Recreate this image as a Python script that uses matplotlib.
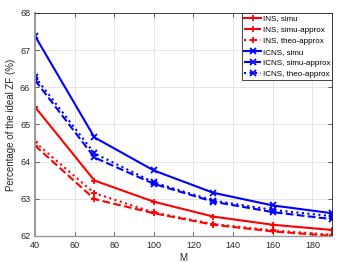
import matplotlib
matplotlib.use("Agg")
import matplotlib.pyplot as plt

plt.rcParams['font.family'] = ['Liberation Sans', 'DejaVu Sans']

M = [40, 70, 100, 130, 160, 190]

ins_simu = [65.47, 63.49, 62.92, 62.52, 62.30, 62.16]
ins_simu_approx = [64.43, 62.99, 62.61, 62.30, 62.12, 62.00]
ins_theo_approx = [64.52, 63.15, 62.63, 62.32, 62.15, 62.03]
icns_simu = [67.38, 64.65, 63.76, 63.16, 62.82, 62.61]
icns_simu_approx = [66.19, 64.11, 63.40, 62.92, 62.64, 62.45]
icns_theo_approx = [66.28, 64.22, 63.44, 62.95, 62.70, 62.53]

labels = ['INS, simu', 'INS, simu-approx', 'INS, theo-approx',
          'ICNS, simu', 'ICNS, simu-approx', 'ICNS, theo-approx']

axc = (0.15, 0.15, 0.15)

fig = plt.figure(figsize=(3.5, 2.63), dpi=100)
ax = fig.add_axes([0.1, 0.103, 0.849, 0.848])

kw = dict(linewidth=1.5, markersize=4.5, markeredgewidth=1.3)
ax.plot(M, ins_simu, '-', color='red', marker='+', label=labels[0], **kw)
ax.plot(M, ins_simu_approx, '--', color='red', marker='+', label=labels[1], **kw)
ax.plot(M, ins_theo_approx, ':', color='red', marker='+', label=labels[2], **kw)
ax.plot(M, icns_simu, '-', color='blue', marker='x', label=labels[3], **kw)
ax.plot(M, icns_simu_approx, '--', color='blue', marker='x', label=labels[4], **kw)
ax.plot(M, icns_theo_approx, ':', color='blue', marker='x', label=labels[5], **kw)

ax.set_xlim(40, 190)
ax.set_ylim(62, 68)
ax.set_xticks([40, 60, 80, 100, 120, 140, 160, 180])
ax.set_yticks([62, 63, 64, 65, 66, 67, 68])
ax.grid(True, color=(0.88, 0.88, 0.88), linewidth=0.6)
ax.set_axisbelow(True)
ax.tick_params(direction='in', labelsize=6.5, colors=axc, length=3, width=0.5,
               top=True, right=True)
for s in ax.spines.values():
    s.set_color(axc)
    s.set_linewidth(0.6)
ax.spines['left'].set_color((0.6, 0.6, 0.6))
ax.spines['left'].set_linewidth(1.4)
ax.spines['bottom'].set_color((0.6, 0.6, 0.6))
ax.spines['bottom'].set_linewidth(1.0)

ax.set_xlabel('M', fontsize=7, color=axc, labelpad=2)
ax.set_ylabel('Percentage of the ideal ZF (%)', fontsize=7, color=axc, labelpad=3)

leg = ax.legend(loc='upper right', fontsize=5.8, frameon=True, fancybox=False,
                edgecolor=axc, borderaxespad=0, handlelength=2.1,
                handletextpad=0.2, labelspacing=0.42, borderpad=0.25,
                framealpha=1)
leg.get_frame().set_linewidth(0.6)

fig.savefig('out.png', dpi=100)
